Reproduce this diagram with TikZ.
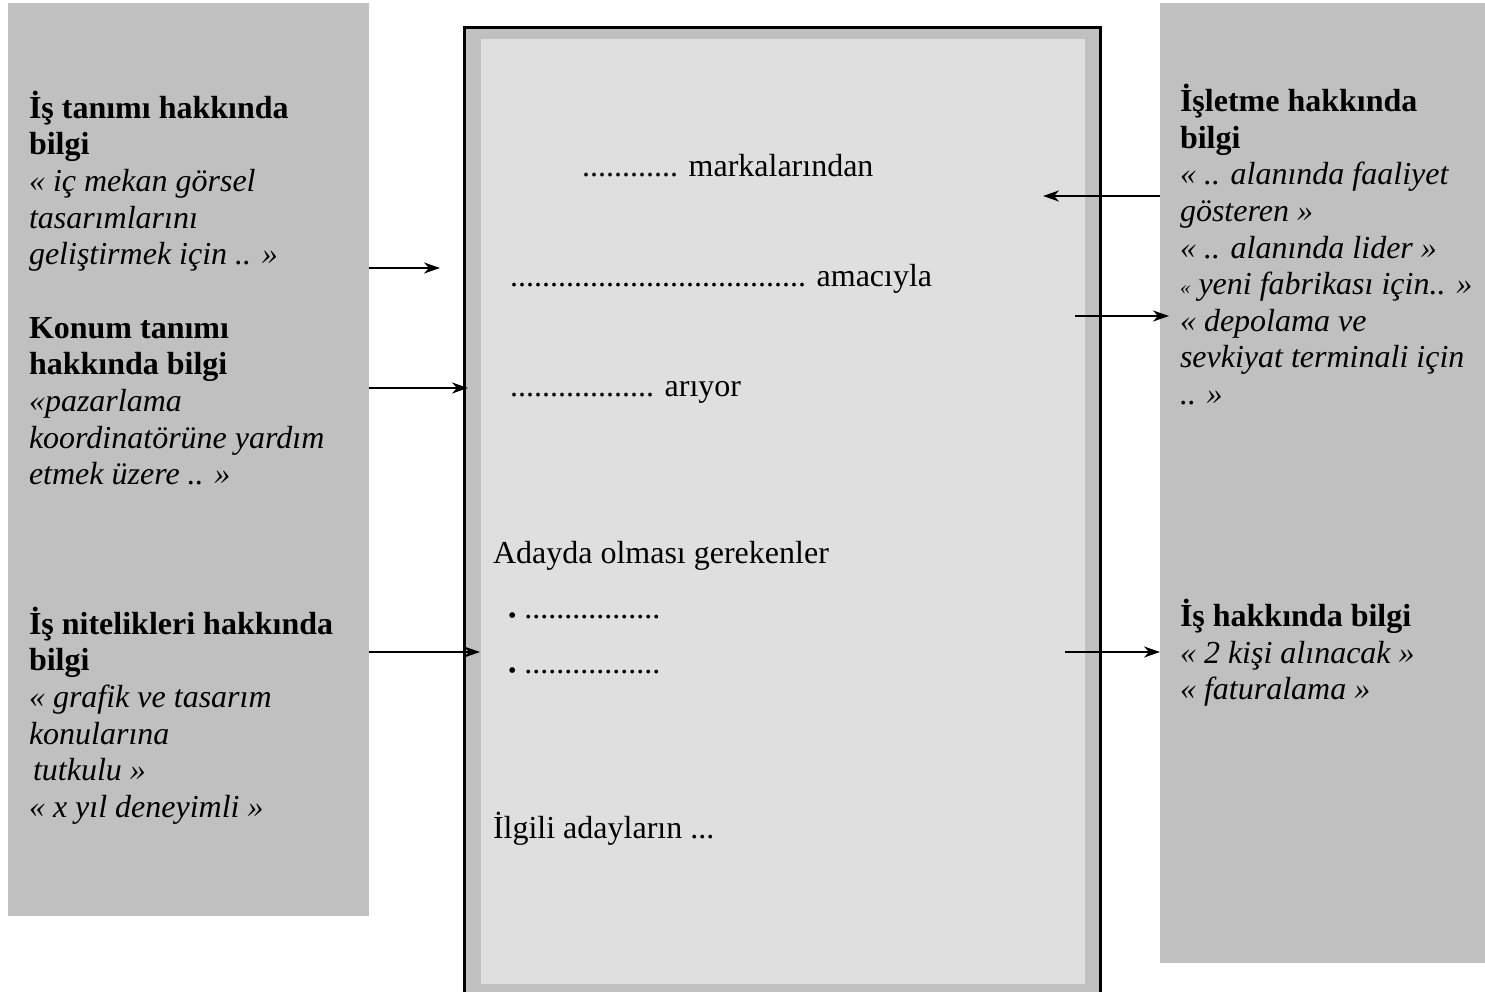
\documentclass[tikz,border=0pt]{standalone}
\usepackage{fontspec}
\setmainfont{Liberation Serif}
\usetikzlibrary{arrows.meta}
\definecolor{boxgray}{RGB}{192,192,192}
\definecolor{paper}{RGB}{223,223,223}
\newcommand{\lowbullet}{\raisebox{-5pt}{\fontsize{24}{24}\selectfont •}\hspace{8pt}}
\begin{document}
\begin{tikzpicture}[x=1pt,y=-1pt,
  panel/.style={fill=boxgray,draw=none,inner sep=0pt,outer sep=0pt},
  sheet/.style={fill=paper,draw=none,inner sep=0pt,outer sep=0pt},
  frame/.style={fill=boxgray,draw=black,line width=2.5pt,inner sep=0pt,outer sep=0pt},
  ln/.style={anchor=base west,inner sep=0pt,outer sep=0pt,yshift=-1.5pt,font=\fontsize{32}{36.6}\selectfont},
  hd/.style={ln,font=\fontsize{32}{36.6}\selectfont\bfseries},
  it/.style={ln,font=\fontsize{32}{36.6}\selectfont\itshape},
  arr/.style={line width=2.2pt,-{Stealth[length=16pt,width=11pt,inset=5pt]}}
]
\useasboundingbox (0,0) rectangle (1485,992);
\begin{scope}
\clip (0,0) rectangle (1485,992);
% side panels
\node[panel,minimum width=361pt,minimum height=912pt] (L) at (188.5,459.5) {};
\node[panel,minimum width=325pt,minimum height=960pt] (R) at (1322.5,483) {};
% central sheet
\node[frame,minimum width=636pt,minimum height=977.5pt] (C) at (782.5,516.25) {};
\node[sheet,minimum width=604pt,minimum height=945pt] (S) at (783,511.5) {};
\end{scope}

% left texts
\node[hd] (l1) at (29,116.7) {İş tanımı hakkında};
\node[hd] (l2) at (29,153.3) {bilgi};
\node[it] (l3) at (29,190) {« iç mekan görsel};
\node[it] (l4) at (29,226.6) {tasarımlarını};
\node[it] (l5) at (29,263.2) {geliştirmek için .. »};
\node[hd] (l6) at (29,336.7) {Konum tanımı};
\node[hd] (l7) at (29,373.3) {hakkında bilgi};
\node[it] (l8) at (29,410) {«pazarlama};
\node[it] (l9) at (29,446.6) {koordinatörüne yardım};
\node[it] (l10) at (29,483.2) {etmek üzere .. »};
\node[hd] (l11) at (29,632.7) {İş nitelikleri hakkında};
\node[hd] (l12) at (29,669.3) {bilgi};
\node[it] (l13) at (29,706) {« grafik ve tasarım};
\node[it] (l14) at (29,742.6) {konularına};
\node[it] (l15) at (33,779.2) {tutkulu »};
\node[it] (l16) at (29,815.8) {« x yıl deneyimli »};

% right texts
\node[hd] (r1) at (1180,110) {İşletme hakkında};
\node[hd] (r2) at (1180,146.6) {bilgi};
\node[it] (r3) at (1180,183.3) {« .. alanında faaliyet};
\node[it] (r4) at (1180,220) {gösteren »};
\node[it] (r5) at (1180,256.6) {« .. alanında lider »};
\node[it] (r6) at (1180,293.2) {{\fontsize{21}{21}\selectfont «} yeni fabrikası için.. »};
\node[it] (r7) at (1180,329.8) {« depolama ve};
\node[it] (r8) at (1180,366.4) {sevkiyat terminali için};
\node[it] (r9) at (1180,403) {.. »};
\node[hd] (r10) at (1180,625) {İş hakkında bilgi};
\node[it] (r11) at (1180,661.7) {« 2 kişi alınacak »};
\node[it] (r12) at (1180,698.3) {« faturalama »};

% center texts
\node[ln] (c1) at (582,175) {............ markalarından};
\node[ln] (c2) at (510,285) {..................................... amacıyla};
\node[ln] (c3) at (510,395) {.................. arıyor};
\node[ln] (c4) at (493,561.7) {Adayda olması gerekenler};
\node[ln] (c5) at (508,617) {\lowbullet.................};
\node[ln] (c6) at (508,671.7) {\lowbullet.................};
\node[ln] (c7) at (493,836.7) {İlgili adayların ...};

% connector ends
\coordinate (e1) at (440,268);
\coordinate (e2) at (468,388);
\coordinate (e3) at (480,652);
\coordinate (e4) at (1043,196);
\coordinate (s5) at (1075,316);
\coordinate (e5) at (1169,316);
\coordinate (s6) at (1065,652);

\draw[arr] (L.east |- e1) -- (e1);
\draw[arr] (L.east |- e2) -- (e2);
\draw[arr] (L.east |- e3) -- (e3);
\draw[arr] (R.west |- e4) -- (e4);
\draw[arr] (s5) -- (e5);
\draw[arr] (s6) -- (R.west |- s6);
\end{tikzpicture}
\end{document}
